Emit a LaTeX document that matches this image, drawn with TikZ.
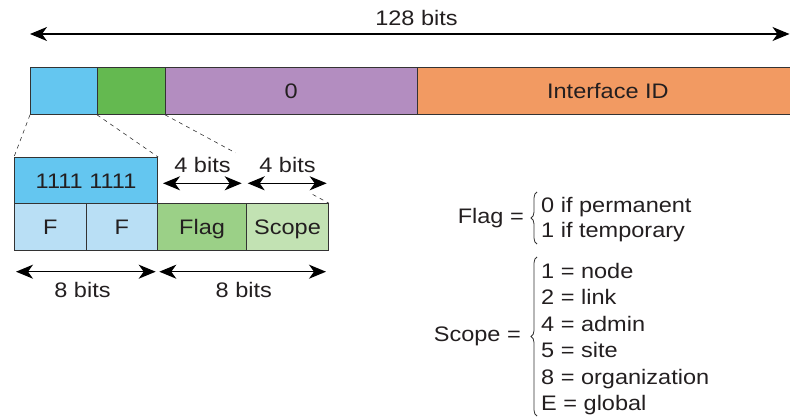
\documentclass[tikz,border=0pt]{standalone}
\usepackage{fontspec}
\setmainfont{Liberation Sans}[FakeStretch=1.12]
\usetikzlibrary{arrows.meta,decorations.pathreplacing,calc}
\definecolor{edgec}{HTML}{333333}
\definecolor{txt}{HTML}{231F20}
\definecolor{cblue}{HTML}{64C6F0}
\definecolor{cgreen}{HTML}{64B950}
\definecolor{cpurple}{HTML}{B38DC0}
\definecolor{corange}{HTML}{F29A62}
\definecolor{clblue}{HTML}{B9DFF5}
\definecolor{cflag}{HTML}{9BD087}
\definecolor{cscope}{HTML}{C2E2B3}
\begin{document}
\begin{tikzpicture}[x=1pt,y=-1pt,
  font=\fontsize{21}{25}\selectfont,
  cell/.style={draw=edgec, line width=0.8pt, inner sep=0pt, anchor=north west,
    text=txt, text height=15pt, text depth=0pt},
  dim/.style={line width=1.3pt, draw=black,
    {Stealth[length=17pt,width=14pt,inset=5pt]}-{Stealth[length=17pt,width=14pt,inset=5pt]}},
  lbl/.style={text=txt, inner sep=0pt, anchor=base},
  lst/.style={text=txt, inner sep=0pt, anchor=base west},
  eqn/.style={text=txt, inner sep=0pt, anchor=base east},
  dashl/.style={draw=edgec, line width=0.6pt, dash pattern=on 4pt off 4pt},
  bracel/.style={draw=edgec, line width=0.8pt, decorate, decoration={brace,amplitude=6pt}}]
\useasboundingbox (0,0) rectangle (790,417);

% top 128 bits arrow
\coordinate (t1) at (30,34);
\coordinate (t2) at (789.5,34);
\draw[dim] (t1) -- (t2);
\node[lbl] (l128) at (416.5,25.5) {128 bits};

% top bar
\node[cell, fill=cblue, minimum width=67pt, minimum height=46.5pt] (b1) at (30,67.5) {};
\node[cell, fill=cgreen, minimum width=68pt, minimum height=46.5pt] (b2) at (97,67.5) {};
\node[cell, fill=cpurple, minimum width=251.5pt, minimum height=46.5pt] (b3) at (165,67.5) {0};
\node[cell, fill=corange, minimum width=382pt, minimum height=46.5pt] (b4) at (416.5,67.5) {Interface ID};

% detail boxes
\node[cell, fill=cblue, minimum width=143.3pt, minimum height=46.3pt] (h1) at (14,157) {1111 1111};
\node[cell, fill=clblue, minimum width=71.7pt, minimum height=46.7pt] (f1) at (14,203.3) {F};
\node[cell, fill=clblue, minimum width=71.6pt, minimum height=46.7pt] (f2) at (85.7,203.3) {F};
\node[cell, fill=cflag, minimum width=88.7pt, minimum height=46.7pt] (fl) at (157.3,203.3) {Flag};
\node[cell, fill=cscope, minimum width=82.3pt, minimum height=46.7pt] (sc) at (246,203.3) {Scope};

% dashed expansion lines
\draw[dashl] (b1.south west) -- (h1.north west);
\draw[dashl] (b2.south west) -- (h1.north east);
\draw[dashl] (b3.south west) -- ($(b3.south west)!0.43!(sc.north east)$);
\draw[dashl] ($(b3.south west)!0.9!(sc.north east)$) -- (sc.north east);

% 4 bits arrows
\coordinate (a1) at (163,183.3);
\coordinate (a2) at (241.7,183.3);
\coordinate (a3) at (247.7,183.3);
\coordinate (a4) at (326.7,183.3);
\draw[dim] (a1) -- (a2);
\draw[dim] (a3) -- (a4);
\node[lbl] (l4a) at (202.5,172.5) {4 bits};
\node[lbl] (l4b) at (287.5,172.5) {4 bits};

% 8 bits arrows
\coordinate (e1) at (16,271.7);
\coordinate (e2) at (155.7,271.7);
\coordinate (e3) at (159.3,271.7);
\coordinate (e4) at (326,271.7);
\draw[dim] (e1) -- (e2);
\draw[dim] (e3) -- (e4);
\node[lbl] (l8a) at (82.5,297.5) {8 bits};
\node[lbl] (l8b) at (243.8,297.5) {8 bits};

% Flag legend
\node[eqn] (flageq) at (524,223) {Flag =};
\coordinate (fb1) at (537,244);
\coordinate (fb2) at (537,192);
\draw[bracel] (fb1) -- (fb2);
\node[lst] (fla) at (541,212) {0 if permanent};
\node[lst] (flb) at (541,237.5) {1 if temporary};

% Scope legend
\node[eqn] (scopeeq) at (521,341) {Scope =};
\coordinate (sb1) at (537,416);
\coordinate (sb2) at (537,257);
\draw[bracel] (sb1) -- (sb2);
\node[lst] (s1) at (541,278) {1 = node};
\node[lst] (s2) at (541,304.5) {2 = link};
\node[lst] (s3) at (541,331) {4 = admin};
\node[lst] (s4) at (541,357.5) {5 = site};
\node[lst] (s5) at (541,384) {8 = organization};
\node[lst] (s6) at (541,410.5) {E = global};
\end{tikzpicture}
\end{document}
